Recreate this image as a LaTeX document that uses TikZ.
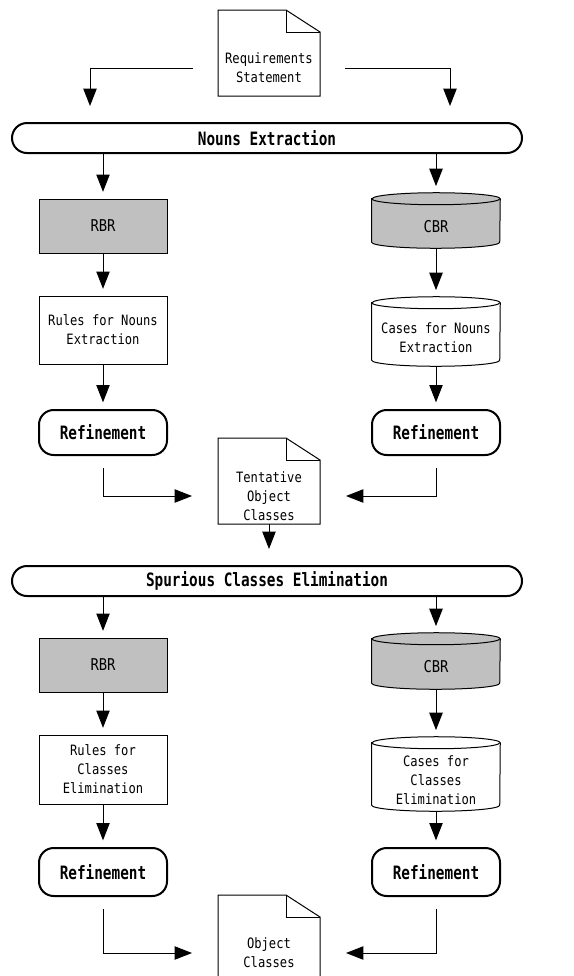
\documentclass[tikz,border=0pt]{standalone}
\usepackage{fontspec}
\usepackage{tikz}
\usetikzlibrary{arrows.meta,backgrounds}
\newfontfamily\boxfont[FakeStretch=0.85]{DejaVu Sans Mono}
\newfontfamily\headfont[FakeStretch=0.78]{DejaVu Sans Mono}
\definecolor{boxgray}{HTML}{C0C0C0}

\tikzset{
  flow/.style={->, line width=0.75pt, shorten >=5pt},
  plainbox/.style={draw, line width=0.75pt, minimum width=96pt, inner sep=0pt, align=center,
    font=\boxfont\fontsize{10.7}{14.25}\selectfont},
  rbrbox/.style={plainbox, fill=boxgray, minimum height=40.5pt, font=\boxfont\fontsize{12.2}{14.25}\selectfont},
  cylbody/.style={minimum width=96pt, inner sep=0pt, align=center,
    font=\boxfont\fontsize{10.7}{14.25}\selectfont},
  doctext/.style={inner sep=0pt, align=center, font=\boxfont\fontsize{10.7}{14.25}\selectfont},
  refine/.style={draw, line width=1.5pt, rounded corners=11pt, minimum width=96pt,
    font=\headfont\bfseries\fontsize{13.8}{16}\selectfont},
  band/.style={draw, line width=1.5pt, rounded corners=11.25pt, minimum width=382.5pt,
    minimum height=22.5pt, inner sep=0pt, font=\headfont\bfseries\fontsize{13.8}{16}\selectfont}
}

% page outline with folded corner, text sits a bit below its middle
\newcommand{\docframe}[1]{%
  \draw[line width=0.75pt] ([shift={(-51,28)}]#1.center) -- ([shift={(-51,-58)}]#1.center)
    -- ([shift={(17,-58)}]#1.center) -- ([shift={(51,-36)}]#1.center) -- ([shift={(51,28)}]#1.center) -- cycle;
  \draw[line width=0.75pt] ([shift={(17,-58)}]#1.center) -- ([shift={(17,-36)}]#1.center) -- ([shift={(51,-36)}]#1.center);
  \coordinate (#1-w) at ([shift={(-51,0)}]#1.center);
  \coordinate (#1-e) at ([shift={(51,0)}]#1.center);
  \coordinate (#1-s) at ([shift={(0,28)}]#1.center);
}
% drum around a node, the node is the part under the top ellipse
\newcommand{\cylframe}[2]{%
  \begin{pgfonlayer}{background}
  \draw[line width=0.75pt, fill=#2] ([yshift=4.5pt]#1.north west) -- ([yshift=4.5pt]#1.south west)
    arc[start angle=180, end angle=360, x radius=48pt, y radius=4.5pt] -- ([yshift=4.5pt]#1.north east)
    arc[start angle=0, end angle=180, x radius=48pt, y radius=4.5pt] -- cycle;
  \draw[line width=0.75pt] ([yshift=4.5pt]#1.north west) arc[start angle=180, end angle=360, x radius=48pt, y radius=4.5pt];
  \end{pgfonlayer}
  \coordinate (#1-top) at ([yshift=9pt]#1.north);
}

\begin{document}
\begin{tikzpicture}[x=0.75pt, y=-0.75pt, >={Triangle[length=13pt,width=10pt]}]
\useasboundingbox (0,0) rectangle (574,976);

% first stage
\node[doctext] (req) at (269,68) {Requirements\\Statement};
\docframe{req}
\node[band] (nouns) at (267,138) {Nouns Extraction};
\coordinate (inL) at (90,106);
\coordinate (inR) at (450,106);
\draw[flow, shorten <=19pt, shorten >=0pt] (req-w) -| (inL);
\draw[flow, shorten <=19pt, shorten >=0pt] (req-e) -| (inR);

\node[rbrbox] (rbr1) at (103,226) {RBR};
\node[cylbody, minimum height=32.25pt, font=\boxfont\fontsize{12.2}{14.25}\selectfont] (cbr1) at (436,226.5) {CBR};
\cylframe{cbr1}{boxgray}
\node[plainbox, minimum height=51pt] (rules1) at (103,330) {Rules for Nouns\\Extraction};
\node[cylbody, minimum height=42.75pt] (cases1) at (436,337.5) {Cases for Nouns\\Extraction};
\cylframe{cases1}{white}
\node[refine, minimum height=33.75pt] (ref1) at (103,432.5) {Refinement};
\node[refine, minimum height=33.75pt] (ref2) at (436,432.5) {Refinement};

\draw[flow] (nouns.south -| rbr1) -- (rbr1.north);
\draw[flow] (nouns.south -| cbr1) -- (cbr1-top);
\draw[flow] (rbr1) -- (rules1);
\draw[flow] (cbr1.south) -- (cases1-top);
\draw[flow] (rules1) -- (ref1);
\draw[flow] (cases1.south) -- (ref2.north);

\node[doctext] (tent) at (269,496) {Tentative\\Object\\Classes};
\docframe{tent}
\draw[flow, shorten <=9pt, shorten >=19.5pt] (ref1.south) |- (tent-w);
\draw[flow, shorten <=9pt, shorten >=19.5pt] (ref2.south) |- (tent-e);

% second stage
\node[band] (spur) at (267,581) {Spurious Classes Elimination};
\draw[flow, shorten >=12pt] (tent-s) -- (spur.north -| tent-s);

\node[rbrbox] (rbr2) at (103,665) {RBR};
\node[cylbody, minimum height=33pt, font=\boxfont\fontsize{12.2}{14.25}\selectfont] (cbr2) at (436,667) {CBR};
\cylframe{cbr2}{boxgray}
\node[plainbox, minimum height=51.75pt] (rules2) at (103,769.5) {Rules for\\Classes\\Elimination};
\node[cylbody, minimum height=46.5pt] (cases2) at (436,780) {Cases for\\Classes\\Elimination};
\cylframe{cases2}{white}
\node[refine, minimum height=36pt] (ref3) at (103,872) {Refinement};
\node[refine, minimum height=36pt] (ref4) at (436,872) {Refinement};

\draw[flow] (spur.south -| rbr2) -- (rbr2.north);
\draw[flow] (spur.south -| cbr2) -- (cbr2-top);
\draw[flow] (rbr2) -- (rules2);
\draw[flow] (cbr2.south) -- (cases2-top);
\draw[flow] (rules2) -- (ref3);
\draw[flow] (cases2.south) -- (ref4.north);

\node[doctext] (obj) at (269,953) {Object\\Classes};
\docframe{obj}
\draw[flow, shorten <=9pt, shorten >=19.5pt] (ref3.south) |- (obj-w);
\draw[flow, shorten <=9pt, shorten >=19.5pt] (ref4.south) |- (obj-e);
\end{tikzpicture}
\end{document}
